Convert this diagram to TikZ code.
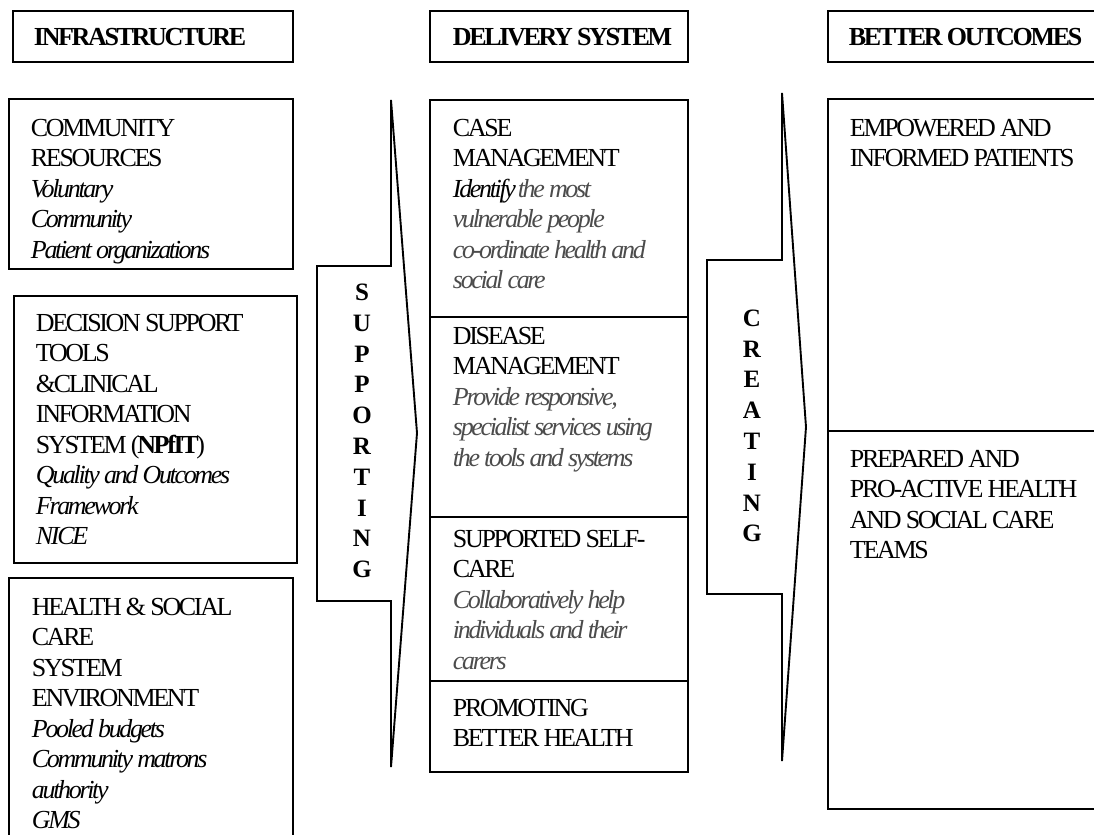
\documentclass[tikz,border=0pt]{standalone}
\usepackage{fontspec}
\setmainfont[LetterSpace=-9]{Liberation Serif}
\definecolor{descgray}{gray}{0.3}
\newcommand{\gdesc}[1]{\textcolor{descgray}{\itshape #1}}

\begin{document}
\begin{tikzpicture}
    [x=0.5pt, y=-0.5pt, line width=0.95pt,
      every node/.style={inner sep=0pt},
      head/.style={anchor=west, font=\bfseries\fontsize{13}{15}\selectfont},
      body/.style={anchor=north west, align=left, font=\fontsize{13}{15.25}\selectfont},
      arrowtxt/.style={align=center, font=\bfseries\fontsize{12.5}{15.4}\selectfont}]
    \clip (0,0) rectangle (1094,835);

    % column headers
    \draw (13,11) rectangle (293,62);
    \draw (430,11) rectangle (688,62);
    \draw (828,11) rectangle (1110,62);
    \node[head] (infra) at (33,37) {INFRASTRUCTURE};
    \node[head] (delivery) at (452,37) {DELIVERY SYSTEM};
    \node[head] (outcomes) at (848,37) {BETTER OUTCOMES};

    % infrastructure
    \draw (9,99) rectangle (293,269);
    \draw (14,296) rectangle (297,563);
    \draw (9,578) rectangle (293,860);
    \node[body] (community) at (30,118) {COMMUNITY\\RESOURCES\\\textit{Voluntary}\\\textit{Community}\\\textit{Patient organizations}};
    \node[body] (decision) at (35,313) {DECISION SUPPORT\\TOOLS\\\&CLINICAL\\INFORMATION\\SYSTEM (\textbf{NPfIT})\\\textit{Quality and Outcomes}\\\textit{Framework}\\\textit{NICE}};
    \node[body] (environment) at (31,597) {HEALTH \& SOCIAL\\CARE\\SYSTEM\\ENVIRONMENT\\\textit{Pooled budgets}\\\textit{Community matrons}\\\textit{authority}\\\textit{GMS}};

    % supporting arrow
    \draw (391,100) -- (417,433) -- (391,767) -- (391,601) -- (317,601)
      -- (317,266) -- (391,266) -- cycle;
    \node[arrowtxt] (supporting) at (362,431) {S\\U\\P\\P\\O\\R\\T\\I\\N\\G};

    % delivery system
    \draw (430,100) rectangle (688,772);
    \draw (430,317) -- (688,317);
    \draw (430,517) -- (688,517);
    \draw (430,681) -- (688,681);
    \node[body] (casemgmt) at (452,118) {CASE\\MANAGEMENT\\\textit{Identify}\gdesc{ the most}\\\gdesc{vulnerable people}\\\gdesc{co-ordinate health and}\\\gdesc{social care}};
    \node[body] (diseasemgmt) at (452,326) {DISEASE\\MANAGEMENT\\\gdesc{Provide responsive,}\\\gdesc{specialist services using}\\\gdesc{the tools and systems}};
    \node[body] (selfcare) at (452,529) {SUPPORTED SELF-\\CARE\\\gdesc{Collaboratively help}\\\gdesc{individuals and their}\\\gdesc{carers}};
    \node[body] (promoting) at (452,698) {PROMOTING\\BETTER HEALTH};

    % creating arrow
    \draw (782,93) -- (806,427) -- (782,761) -- (782,594) -- (707,594)
      -- (707,260) -- (782,260) -- cycle;
    \node[arrowtxt] (creating) at (752,426) {C\\R\\E\\A\\T\\I\\N\\G};

    % better outcomes
    \draw (828,99) rectangle (1110,809);
    \draw (828,431) -- (1110,431);
    \node[body] (patients) at (849,118) {EMPOWERED AND\\INFORMED PATIENTS};
    \node[body] (teams) at (849,449) {PREPARED AND\\PRO-ACTIVE HEALTH\\AND SOCIAL CARE\\TEAMS};
  \end{tikzpicture}
\end{document}
